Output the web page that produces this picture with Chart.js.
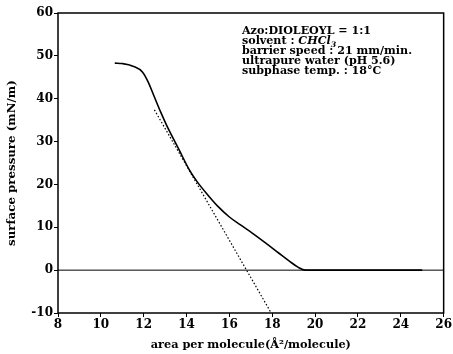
<!DOCTYPE html>
<html>
<head>
<meta charset="utf-8">
<script src="https://cdn.jsdelivr.net/npm/chart.js@4.4.1/dist/chart.umd.min.js"></script>
<style>
  html, body { margin: 0; padding: 0; background: #fff; }
  #wrap { width: 453px; height: 354px; }
</style>
</head>
<body>
<div id="wrap"><canvas id="isotherm" width="453" height="354"></canvas></div>
<script>
// pi-A isotherm
var isoArea     = [10.65, 11.0, 11.5, 11.95, 12.2, 12.5, 12.8, 13.06, 13.66, 14.13, 14.5, 15.0, 15.5, 16.0, 16.5, 17.05, 17.7, 18.3, 18.8, 19.2, 19.55, 20.0, 25.0];
var isoPressure = [48.3, 48.2, 47.6, 46.2, 44.0, 40.4, 36.8, 33.9, 28.0, 23.4, 20.6, 17.5, 14.7, 12.4, 10.6, 8.7, 6.3, 4.0, 2.1, 0.7, 0.0, 0.0, 0.0];

// dotted extrapolation of the condensed region
var tangentArea     = [12.5, 17.95];
var tangentPressure = [37.4, -10];

// zero line
var zeroArea     = [8, 26];
var zeroPressure = [0, 0];

var xTicks = [8, 10, 12, 14, 16, 18, 20, 22, 24, 26];
var yTicks = [-10, 0, 10, 20, 30, 40, 50, 60];

// text box, top right
var noteLines = [
    [{ t: "Azo:DIOLEOYL = 1:1" }],
    [{ t: "solvent : " }, { t: "CHCl", it: true }, { t: "3", it: true, sub: true }],
    [{ t: "barrier speed : 21 mm/min." }],
    [{ t: "ultrapure water (pH 5.6)" }],
    [{ t: "subphase temp. : 18°C" }]
];

function toPoints(xs, ys) {
    return xs.map(function (x, i) { return { x: x, y: ys[i] }; });
}

var serif = "'DejaVu Serif', serif";

function segFont(s) {
    return (s.it ? "italic " : "") + "bold " + (s.sub ? 7.5 : 10.5) + "px " + serif;
}

// frame + note text
var framePlugin = {
    id: "frame",
    afterDatasetsDraw: function (chart) {
        var a = chart.chartArea, ctx = chart.ctx;
        ctx.save();
        ctx.strokeStyle = "#000";
        ctx.lineWidth = 1.5;
        ctx.strokeRect(a.left, a.top, a.right - a.left, a.bottom - a.top);

        // text in the scan is wider than it is tall, stretch to the same width
        var widest = 0;
        noteLines.forEach(function (segs) {
            var w = 0;
            segs.forEach(function (s) { ctx.font = segFont(s); w += ctx.measureText(s.t).width; });
            widest = Math.max(widest, w);
        });
        ctx.fillStyle = "#000";
        ctx.textBaseline = "alphabetic";
        ctx.translate(242, 0);
        ctx.scale(170 / widest, 1);
        var y = 34;
        noteLines.forEach(function (segs) {
            var x = 0;
            segs.forEach(function (s) {
                ctx.font = segFont(s);
                ctx.fillText(s.t, x, s.sub ? y + 2.5 : y);
                x += ctx.measureText(s.t).width;
            });
            y += 10;
        });
        ctx.restore();
    }
};

var ctx = document.getElementById("isotherm").getContext("2d");
var chart = new Chart(ctx, {
    type: "scatter",
    data: {
        datasets: [{
            data: toPoints(isoArea, isoPressure),
            showLine: true,
            borderColor: "#000",
            borderWidth: 1.6,
            pointRadius: 0,
            cubicInterpolationMode: "monotone"
        }, {
            data: toPoints(tangentArea, tangentPressure),
            showLine: true,
            borderColor: "#000",
            borderWidth: 1.2,
            borderDash: [1.5, 2],
            pointRadius: 0
        }, {
            data: toPoints(zeroArea, zeroPressure),
            showLine: true,
            borderColor: "#000",
            borderWidth: 1,
            pointRadius: 0
        }]
    },
    options: {
        responsive: false,
        animation: false,
        devicePixelRatio: 1,
        layout: { padding: { top: 13, right: 7, left: 0, bottom: 0 } },
        plugins: {
            legend: { display: false },
            tooltip: { enabled: false }
        },
        scales: {
            x: {
                type: "linear",
                min: 8,
                max: 26,
                afterBuildTicks: function (s) { s.ticks = xTicks.map(function (v) { return { value: v }; }); },
                afterFit: function (s) { s.height = 41; },
                ticks: { color: "#000", padding: 1, maxRotation: 0, font: { family: serif, size: 12, weight: "bold" } },
                grid: { drawOnChartArea: false, tickLength: 4, color: "#000", lineWidth: 1 },
                border: { display: false },
                title: {
                    display: true,
                    text: "area per molecule(Å²/molecule)",
                    color: "#000",
                    padding: { top: 2, bottom: 2 },
                    font: { family: serif, size: 11.3, weight: "bold" }
                }
            },
            y: {
                type: "linear",
                min: -10,
                max: 60,
                afterBuildTicks: function (s) { s.ticks = yTicks.map(function (v) { return { value: v }; }); },
                afterFit: function (s) { s.width = 58; },
                ticks: { color: "#000", padding: 1, font: { family: serif, size: 12, weight: "bold" } },
                grid: { drawOnChartArea: false, tickLength: 4, color: "#000", lineWidth: 1 },
                border: { display: false },
                title: {
                    display: true,
                    text: "surface pressure (mN/m)",
                    color: "#000",
                    padding: { top: 5, bottom: 5 },
                    font: { family: serif, size: 11.8, weight: "bold" }
                }
            }
        }
    },
    plugins: [framePlugin]
});
</script>
</body>
</html>
